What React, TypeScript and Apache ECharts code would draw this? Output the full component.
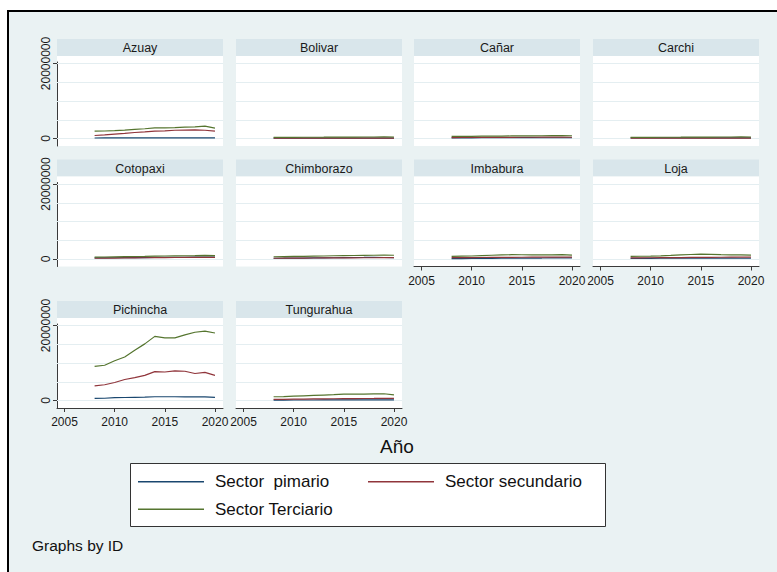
import React, { useEffect, useRef } from "react";
import * as echarts from "echarts";

// Years on the horizontal axis
const years = [2008, 2009, 2010, 2011, 2012, 2013, 2014, 2015, 2016, 2017, 2018, 2019, 2020];

// One small panel per province, in reading order
const provinces = [
  "Azuay", "Bolivar", "Cañar", "Carchi",
  "Cotopaxi", "Chimborazo", "Imbabura", "Loja",
  "Pichincha", "Tungurahua",
];

const sectorNames = ["Sector  pimario", "Sector secundario", "Sector Terciario"];
const sectorColors = ["#1a476f", "#90353b", "#55752f"];

// Tick labels
const yTicks = [0, 20000000];
const yGrid = [0, 5000000, 10000000, 15000000, 20000000];
const xTicks = [2005, 2010, 2015, 2020];

// Primary sector, one row per province
const primario = [
  [140000, 145000, 150000, 155000, 160000, 165000, 170000, 170000, 170000, 165000, 165000, 160000, 155000],
  [110000, 112000, 115000, 118000, 120000, 122000, 125000, 125000, 125000, 123000, 122000, 120000, 118000],
  [180000, 185000, 190000, 195000, 200000, 205000, 210000, 210000, 210000, 205000, 205000, 200000, 195000],
  [140000, 142000, 145000, 148000, 150000, 152000, 155000, 155000, 155000, 152000, 150000, 150000, 148000],
  [300000, 310000, 330000, 350000, 370000, 390000, 420000, 440000, 450000, 470000, 480000, 490000, 480000],
  [200000, 210000, 230000, 250000, 280000, 310000, 340000, 370000, 400000, 420000, 450000, 400000, 350000],
  [100000, 120000, 140000, 160000, 180000, 200000, 220000, 240000, 250000, 260000, 280000, 290000, 300000],
  [180000, 185000, 190000, 195000, 200000, 205000, 210000, 215000, 215000, 210000, 210000, 205000, 200000],
  [550000, 600000, 750000, 800000, 850000, 900000, 1000000, 1000000, 1000000, 950000, 950000, 950000, 850000],
  [120000, 125000, 130000, 135000, 140000, 145000, 150000, 155000, 155000, 150000, 150000, 150000, 145000],
];

// Secondary sector
const secundario = [
  [800000, 950000, 1150000, 1350000, 1600000, 1750000, 1950000, 2050000, 2200000, 2250000, 2300000, 2200000, 1950000],
  [70000, 72000, 75000, 78000, 80000, 82000, 85000, 88000, 90000, 90000, 88000, 86000, 85000],
  [250000, 260000, 270000, 280000, 290000, 300000, 320000, 330000, 340000, 345000, 350000, 350000, 340000],
  [90000, 92000, 95000, 98000, 100000, 102000, 105000, 108000, 110000, 110000, 108000, 106000, 105000],
  [200000, 220000, 250000, 280000, 300000, 330000, 360000, 380000, 400000, 420000, 440000, 450000, 450000],
  [200000, 210000, 220000, 240000, 260000, 280000, 300000, 310000, 320000, 330000, 340000, 350000, 350000],
  [350000, 360000, 380000, 400000, 420000, 440000, 460000, 470000, 480000, 490000, 500000, 500000, 500000],
  [300000, 310000, 330000, 350000, 370000, 390000, 410000, 430000, 450000, 470000, 480000, 500000, 500000],
  [3900000, 4200000, 4800000, 5600000, 6100000, 6700000, 7700000, 7600000, 7900000, 7800000, 7200000, 7500000, 6700000],
  [300000, 320000, 350000, 380000, 410000, 440000, 470000, 500000, 520000, 540000, 560000, 600000, 550000],
];

// Tertiary sector
const terciario = [
  [1960000, 2000000, 2100000, 2250000, 2450000, 2600000, 2850000, 2850000, 2900000, 3050000, 3100000, 3300000, 2750000],
  [300000, 310000, 320000, 330000, 340000, 350000, 370000, 380000, 390000, 400000, 405000, 410000, 400000],
  [550000, 570000, 590000, 610000, 630000, 650000, 680000, 700000, 720000, 740000, 750000, 760000, 740000],
  [300000, 310000, 320000, 330000, 340000, 350000, 370000, 380000, 390000, 400000, 405000, 410000, 400000],
  [500000, 540000, 580000, 620000, 660000, 700000, 760000, 800000, 830000, 860000, 900000, 950000, 920000],
  [600000, 640000, 680000, 720000, 760000, 800000, 860000, 900000, 930000, 960000, 1000000, 1020000, 1000000],
  [700000, 750000, 800000, 900000, 1000000, 1080000, 1150000, 1130000, 1120000, 1100000, 1120000, 1150000, 1050000],
  [700000, 740000, 780000, 850000, 950000, 1100000, 1200000, 1300000, 1250000, 1150000, 1120000, 1100000, 1050000],
  [9100000, 9400000, 10600000, 11600000, 13400000, 15100000, 17100000, 16700000, 16700000, 17500000, 18200000, 18500000, 18000000],
  [1000000, 1050000, 1150000, 1250000, 1350000, 1450000, 1550000, 1700000, 1680000, 1720000, 1780000, 1800000, 1500000],
];

const sectorData = [primario, secundario, terciario];

const FONT = "'Liberation Sans', Arial, Helvetica, sans-serif";
const BG = "#EAF2F3";
const STRIP = "#D9E6EB";
const AXIS = "#3a3a3a";

const COL_LEFT = [57, 236, 414, 593];
const ROW_TOP = [39, 159.5, 301];
const PANEL_W = 166;
const HEADER_H = 17;
const PLOT_H = 90;
const AXIS_INSET = 6;

// Panels that carry the year axis
const showX = new Set(["Imbabura", "Loja", "Pichincha", "Tungurahua"]);

function buildOption(): echarts.EChartsCoreOption {
  const grids: any[] = [];
  const xAxes: any[] = [];
  const yAxes: any[] = [];
  const series: any[] = [];
  const graphics: any[] = [];

  graphics.push({
    type: "rect",
    z: -20,
    shape: { x: 8, y: 11, width: 800, height: 600 },
    style: { fill: BG, stroke: "#000", lineWidth: 2 },
  });

  provinces.forEach((name, i) => {
    const col = i % 4;
    const row = Math.floor(i / 4);
    const left = COL_LEFT[col];
    const top = ROW_TOP[row];

    graphics.push({
      type: "rect",
      z: -10,
      shape: { x: left, y: top, width: PANEL_W, height: HEADER_H },
      style: { fill: STRIP },
    });
    graphics.push({
      type: "rect",
      z: -10,
      shape: { x: left, y: top + HEADER_H, width: PANEL_W, height: PLOT_H },
      style: { fill: "#ffffff" },
    });
    graphics.push({
      type: "text",
      z: -5,
      x: left + PANEL_W / 2,
      y: top + HEADER_H / 2 + 0.5,
      style: {
        text: name,
        fill: "#1a1a1a",
        fontSize: 12.5,
        fontWeight: "normal",
        fontFamily: FONT,
        align: "center",
        verticalAlign: "middle",
      },
    });

    grids.push({
      left,
      top: top + HEADER_H + AXIS_INSET,
      width: PANEL_W,
      height: PLOT_H - AXIS_INSET,
      containLabel: false,
      show: false,
    });

    const hasX = showX.has(name);
    const hasY = col === 0;

    xAxes.push({
      type: "value",
      gridIndex: i,
      min: 2004.25,
      max: 2020.8,
      show: hasX,
      axisLine: { show: hasX, onZero: false, lineStyle: { color: AXIS, width: 1 } },
      axisTick: {
        show: hasX,
        length: 4,
        customValues: xTicks,
        lineStyle: { color: AXIS, width: 1 },
      },
      axisLabel: {
        show: hasX,
        customValues: xTicks,
        margin: 8,
        color: "#1a1a1a",
        fontSize: 12,
        fontWeight: "normal",
        fontFamily: FONT,
        formatter: (v: number) => String(v),
      },
      splitLine: { show: false },
    });

    yAxes.push({
      type: "value",
      gridIndex: i,
      min: -2000000,
      max: 20400000,
      show: hasY,
      axisLine: { show: hasY, lineStyle: { color: AXIS, width: 1 } },
      axisTick: {
        show: hasY,
        length: 4,
        customValues: yTicks,
        lineStyle: { color: AXIS, width: 1 },
      },
      axisLabel: {
        show: hasY,
        customValues: yTicks,
        rotate: 90,
        margin: 5,
        color: "#1a1a1a",
        fontSize: 12,
        fontWeight: "normal",
        fontFamily: FONT,
        formatter: (v: number) => String(v),
      },
      splitLine: { show: false },
    });

    // light horizontal guides every 5 million
    series.push({
      type: "line",
      xAxisIndex: i,
      yAxisIndex: i,
      data: [],
      silent: true,
      z: 1,
      markLine: {
        silent: true,
        z: 1,
        symbol: ["none", "none"],
        label: { show: false },
        lineStyle: { color: "#e4eef1", width: 1, type: "solid" },
        data: yGrid.map((v) => ({ yAxis: v })),
      },
    });

    sectorData.forEach((values, s) => {
      series.push({
        name: sectorNames[s],
        type: "line",
        xAxisIndex: i,
        yAxisIndex: i,
        symbol: "none",
        z: 2,
        lineStyle: { color: sectorColors[s], width: 1.2 },
        itemStyle: { color: sectorColors[s] },
        data: years.map((y, k) => [y, values[i][k]]),
      });
    });
  });

  graphics.push({
    type: "text",
    x: 397,
    y: 446,
    style: {
      text: "Año",
      fill: "#111",
      fontSize: 19,
      fontWeight: "normal",
      fontFamily: FONT,
      align: "center",
      verticalAlign: "middle",
    },
  });

  graphics.push({
    type: "rect",
    z: -5,
    shape: { x: 130.5, y: 463.5, width: 475, height: 63 },
    style: { fill: "#ffffff", stroke: "#333", lineWidth: 1 },
  });

  graphics.push({
    type: "text",
    x: 32,
    y: 545,
    style: {
      text: "Graphs by ID",
      fill: "#111",
      fontSize: 15.5,
      fontWeight: "normal",
      fontFamily: FONT,
      align: "left",
      verticalAlign: "middle",
    },
  });

  const legendBase = {
    orient: "horizontal",
    padding: 0,
    icon: "rect",
    itemWidth: 66,
    itemHeight: 1.6,
    selectedMode: false,
    textStyle: {
      fontSize: 17,
      fontWeight: "normal",
      fontFamily: FONT,
      color: "#111",
      lineHeight: 20,
      padding: [0, 0, 0, 6],
    },
  };

  return {
    animation: false,
    backgroundColor: "#ffffff",
    textStyle: { fontFamily: FONT },
    grid: grids,
    xAxis: xAxes,
    yAxis: yAxes,
    series,
    graphic: { elements: graphics },
    legend: [
      { ...legendBase, data: [sectorNames[0]], left: 138, top: 471.7 },
      { ...legendBase, data: [sectorNames[1]], left: 368, top: 471.7 },
      { ...legendBase, data: [sectorNames[2]], left: 138, top: 499.3 },
    ],
  };
}

export default function App() {
  const ref = useRef<HTMLDivElement>(null);

  useEffect(() => {
    if (!ref.current) return;
    const chart = echarts.init(ref.current, undefined, { renderer: "svg" });
    chart.setOption(buildOption());
    return () => chart.dispose();
  }, []);

  return (
    <div
      ref={ref}
      style={{ position: "absolute", left: 0, top: 0, width: 777, height: 572 }}
    />
  );
}
